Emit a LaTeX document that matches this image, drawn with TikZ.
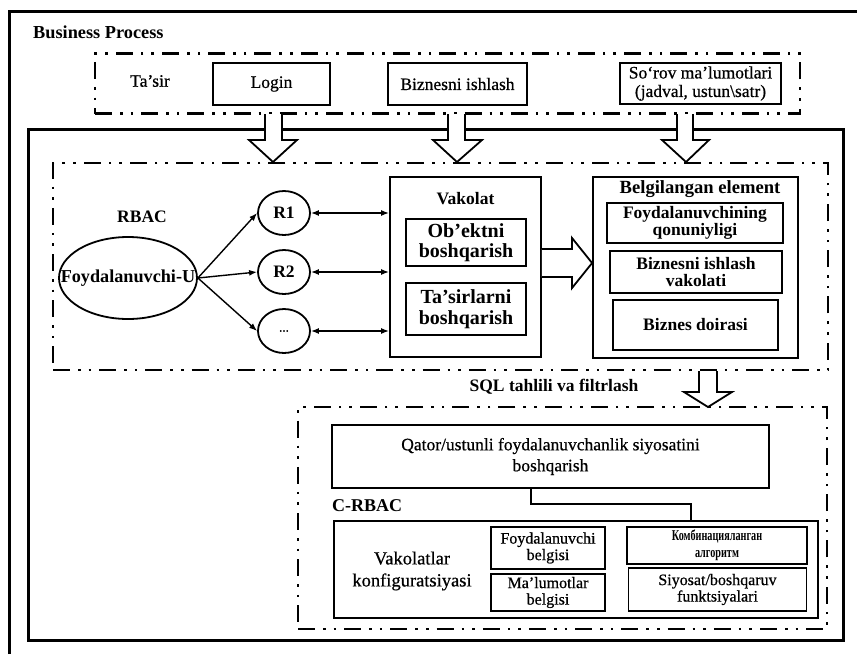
\documentclass[tikz,border=0pt]{standalone}
\usepackage{fontspec}
\setmainfont{Liberation Serif}[UprightFeatures={FakeBold=0.6}]
\newfontfamily\cyrcond{Liberation Serif}[FakeStretch=0.68]
\usetikzlibrary{arrows.meta,shapes.geometric}

\begin{document}
\begin{tikzpicture}[x=1pt,y=-1pt,
  every node/.style={font=\fontsize{17.5}{18.5}\selectfont, align=center, inner sep=0pt},
  bf/.style={font=\fontsize{17.5}{18.5}\selectfont\bfseries},
  small/.style={font=\fontsize{16}{16.5}\selectfont},
  box/.style={draw, line width=1.8pt, rectangle},
  frame/.style={line width=3pt},
  ddd/.style={draw, line width=2.6pt, dash pattern=on 17pt off 8pt on 2.6pt off 8pt on 2.6pt off 8pt},
  blockarr/.style={draw, fill=white, line width=1.8pt, line join=miter},
  conn/.style={line width=1.4pt, -{Latex[length=8pt,width=6pt]}},
  conntwo/.style={line width=1.4pt, {Latex[length=8pt,width=6pt]}-{Latex[length=8pt,width=6pt]}},
  link/.style={line width=2.4pt},
  role/.style={draw, ellipse, line width=1.8pt, minimum width=52pt, minimum height=44pt}
]
\useasboundingbox (0,0) rectangle (857,654);

% outer frame of the business process
\draw[frame] (9,654) -- (9,11) -- (857,11);
\node[anchor=west, font=\fontsize{18.3}{19}\selectfont\bfseries] (title) at (33,32) {Business Process};

% top row: actions
\node[ddd, minimum width=705pt, minimum height=60pt] (actgrp) at (447.5,83.5) {};
\node (tasir) at (150,81) {Ta’sir};
\node[box, minimum width=117pt, minimum height=42pt] (login) at (271.5,84) {Login};
\node[box, minimum width=139pt, minimum height=42pt] (biz) at (457.5,84) {Biznesni ishlash};
\node[box, minimum width=161pt, minimum height=41pt] (sorov) at (700.5,83.5)
  {So‘rov ma’lumotlari\\(jadval, ustun\textbackslash satr)};

% inner solid container
\draw[frame] (28,129) rectangle (843,640);

% RBAC group
\node[ddd, minimum width=775pt, minimum height=207pt] (rbac) at (440.5,266.5) {};
\node[bf] (rbaclbl) at (142,217) {RBAC};
\node[draw, ellipse, line width=1.8pt, minimum width=138pt, minimum height=82pt] (U) at (128,278) {};
\node[font=\fontsize{18.2}{19}\selectfont\bfseries] (Ulbl) at (U.center) {Foydalanuvchi-U};
\node[role, bf] (R1) at (284,213) {R1};
\node[role, bf] (R2) at (284,272) {R2};
\node[role, font=\fontsize{13}{14}\selectfont] (R3) at (284,331) {...};

\draw[conn] (U.east) -- (R1.west);
\draw[conn] (U.east) -- (R2.west);
\draw[conn] (U.east) -- (R3.west);

% permissions
\node[box, minimum width=151pt, minimum height=180pt] (vak) at (465.5,267) {};
\node[bf] (vaklbl) at (465.5,199) {Vakolat};
\node[box, minimum width=120pt, minimum height=47pt, font=\fontsize{20}{20}\selectfont\bfseries] (obj) at (466,242.5) {Ob’ektni\\boshqarish};
\node[box, minimum width=120pt, minimum height=52pt, font=\fontsize{20}{21}\selectfont\bfseries] (act) at (466,309) {Ta’sirlarni\\boshqarish};

\draw[conntwo] (R1.east) -- (R1.east -| vak.west);
\draw[conntwo] (R2.east) -- (R2.east -| vak.west);
\draw[conntwo] (R3.east) -- (R3.east -| vak.west);

% marked elements
\node[box, minimum width=205pt, minimum height=181pt] (bel) at (695.5,267.5) {};
\node[font=\fontsize{18.6}{19}\selectfont\bfseries] (bellbl) at (700,189) {Belgilangan element};
\node[box, minimum width=176pt, minimum height=40pt, font=\fontsize{17.5}{17}\selectfont\bfseries] (qon) at (695,223) {Foydalanuvchining\\qonuniyligi};
\node[box, minimum width=172pt, minimum height=42pt, font=\fontsize{17.5}{17}\selectfont\bfseries] (bvak) at (696,272) {Biznesni ishlash\\vakolati};
\node[box, bf, minimum width=165pt, minimum height=50pt] (bdoi) at (695.5,325) {Biznes doirasi};

% block arrow from permissions to marked elements
\path[blockarr] (vak.east |- 0,249) -- (572,249) -- (572,238) -- (bel.west |- 0,263)
  -- (572,288) -- (572,277) -- (vak.east |- 0,277);

% block arrows from the action row down into RBAC
\path[blockarr] (265,114) -- (265,140) -- (249,140) -- (273,162) -- (297,140) -- (282,140) -- (282,114);
\path[blockarr] (448,114) -- (448,140) -- (433,140) -- (457,162) -- (482,140) -- (465,140) -- (465,114);
\path[blockarr] (677,114) -- (677,140) -- (662,140) -- (686,162) -- (709,140) -- (693,140) -- (693,114);

% SQL analysis
\node[bf] (sql) at (554,387) {SQL tahlili va filtrlash};
\path[blockarr] (699,371) -- (699,392) -- (684,392) -- (708,407) -- (732,392) -- (717,392) -- (717,371);

% C-RBAC group
\node[ddd, minimum width=529pt, minimum height=222pt] (crbac) at (562.5,518) {};
\node[box, minimum width=437pt, minimum height=63pt, font=\fontsize{17.5}{21}\selectfont] (qator) at (550.5,456.5)
  {Qator/ustunli foydalanuvchanlik siyosatini\\boshqarish};
\node[anchor=west, font=\fontsize{18}{19}\selectfont\bfseries] (crbaclbl) at (332,506) {C-RBAC};
\node[box, minimum width=484pt, minimum height=97pt] (cfg) at (576,569.5) {};
\node[font=\fontsize{18.5}{22}\selectfont] (cfglbl) at (412,571) {Vakolatlar\\konfiguratsiyasi};
\node[box, small, minimum width=114pt, minimum height=42pt] (fb) at (548,548) {Foydalanuvchi\\belgisi};
\node[box, small, minimum width=114pt, minimum height=37pt] (mb) at (548,592.5) {Ma’lumotlar\\belgisi};
\node[box, minimum width=180pt, minimum height=37pt, font=\fontsize{15}{17}\cyrcond\bfseries] (alg) at (717,545.5) {Комбинацияланган\\алгоритм};
\node[box, small, minimum width=178pt, minimum height=43pt] (pol) at (717.5,589.5) {Siyosat/boshqaruv\\funktsiyalari};

\draw[link] (qator.south -| 531,0) -- (531,504) -- (691,504) -- (cfg.north -| 691,0);

\end{tikzpicture}
\end{document}
